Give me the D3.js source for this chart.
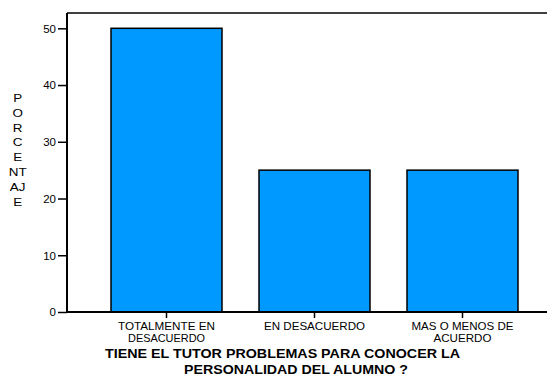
<!DOCTYPE html>
<html><head><meta charset="utf-8">
<script src="https://cdn.jsdelivr.net/npm/d3@7"></script>
<style>body{margin:0;background:#fff}svg{display:block}text{font-family:"Liberation Sans",Arial,sans-serif;fill:#000}</style>
</head><body>
<svg id="c" width="547" height="376"></svg>
<script>
const categories = [["TOTALMENTE EN","DESACUERDO"],["EN DESACUERDO"],["MAS O MENOS DE","ACUERDO"]];
const values = [50, 25, 25];
const yTicks = [0, 10, 20, 30, 40, 50];
const yLabelLines = ["P","O","R","C","E","NT","AJ","E"];
const titleLines = ["TIENE EL TUTOR PROBLEMAS PARA CONOCER LA","PERSONALIDAD DEL ALUMNO ?"];

(function(){
const svg = d3.select("#c");
const pLeft = 67, pBottom = 312, pTop = 13, pRight = 547;
const x = d3.scaleBand().domain(d3.range(values.length)).range([92.5, 536.5]).paddingInner(0.25).paddingOuter(0.125);
const y = d3.scaleLinear().domain([0, 50]).range([pBottom, 28.3]);

// top frame line
svg.append("line").attr("x1", pLeft).attr("x2", pRight).attr("y1", pTop).attr("y2", pTop).attr("stroke","#000").attr("stroke-width",1.6);

// bars
svg.selectAll("rect.bar").data(values).join("rect").attr("class","bar")
  .attr("x",(d,i)=>x(i)).attr("width",x.bandwidth())
  .attr("y",d=>y(d)).attr("height",d=>pBottom-y(d))
  .attr("fill","#0099ff").attr("stroke","#000").attr("stroke-width",1.5);

// y axis
const ya = svg.append("g").attr("transform",`translate(${pLeft},0)`)
  .call(d3.axisLeft(y).tickValues(yTicks).tickSize(9).tickPadding(2).tickSizeOuter(0));
ya.select(".domain").attr("d",`M0,${pTop}V${pBottom}`).attr("stroke-width",2);
ya.selectAll(".tick line").attr("stroke-width",1.5);
ya.selectAll(".tick text").attr("font-size","11.5px").attr("dy","0.33em").style("font-family","Liberation Sans, Arial, sans-serif").attr("fill","#000");

// x axis
const xa = svg.append("g").attr("transform",`translate(0,${pBottom})`)
  .call(d3.axisBottom(x).tickSize(6).tickSizeOuter(0).tickFormat(""));
xa.select(".domain").attr("d",`M${pLeft},0H${pRight}`).attr("stroke-width",2);
xa.selectAll(".tick line").attr("stroke-width",1.5);

// category labels
const lineWidths = [[97,77],[101],[102,58]];
categories.forEach((lines,i)=>{
  lines.forEach((t,j)=>{
    svg.append("text").attr("x", x(i)+x.bandwidth()/2).attr("y", 330 + j*11.7)
      .attr("text-anchor","middle").attr("font-size","10.7px")
      .attr("textLength", lineWidths[i][j]).attr("lengthAdjust","spacingAndGlyphs").text(t);
  });
});

// y label
yLabelLines.forEach((t,i)=>{
  svg.append("text").attr("transform",`translate(17.7,${101.7 + i*14.9}) scale(1.17,1)`)
    .attr("text-anchor","middle").attr("font-size","11.5px").text(t);
});

// title
const titlePos = [[282.5,358.3,355],[296,374,224]];
titleLines.forEach((t,i)=>{
  svg.append("text").attr("x",titlePos[i][0]).attr("y",titlePos[i][1]).attr("text-anchor","middle")
    .attr("font-size","12.5px").attr("font-weight","bold")
    .attr("textLength",titlePos[i][2]).attr("lengthAdjust","spacingAndGlyphs").text(t);
});
})();
</script>
</body></html>
